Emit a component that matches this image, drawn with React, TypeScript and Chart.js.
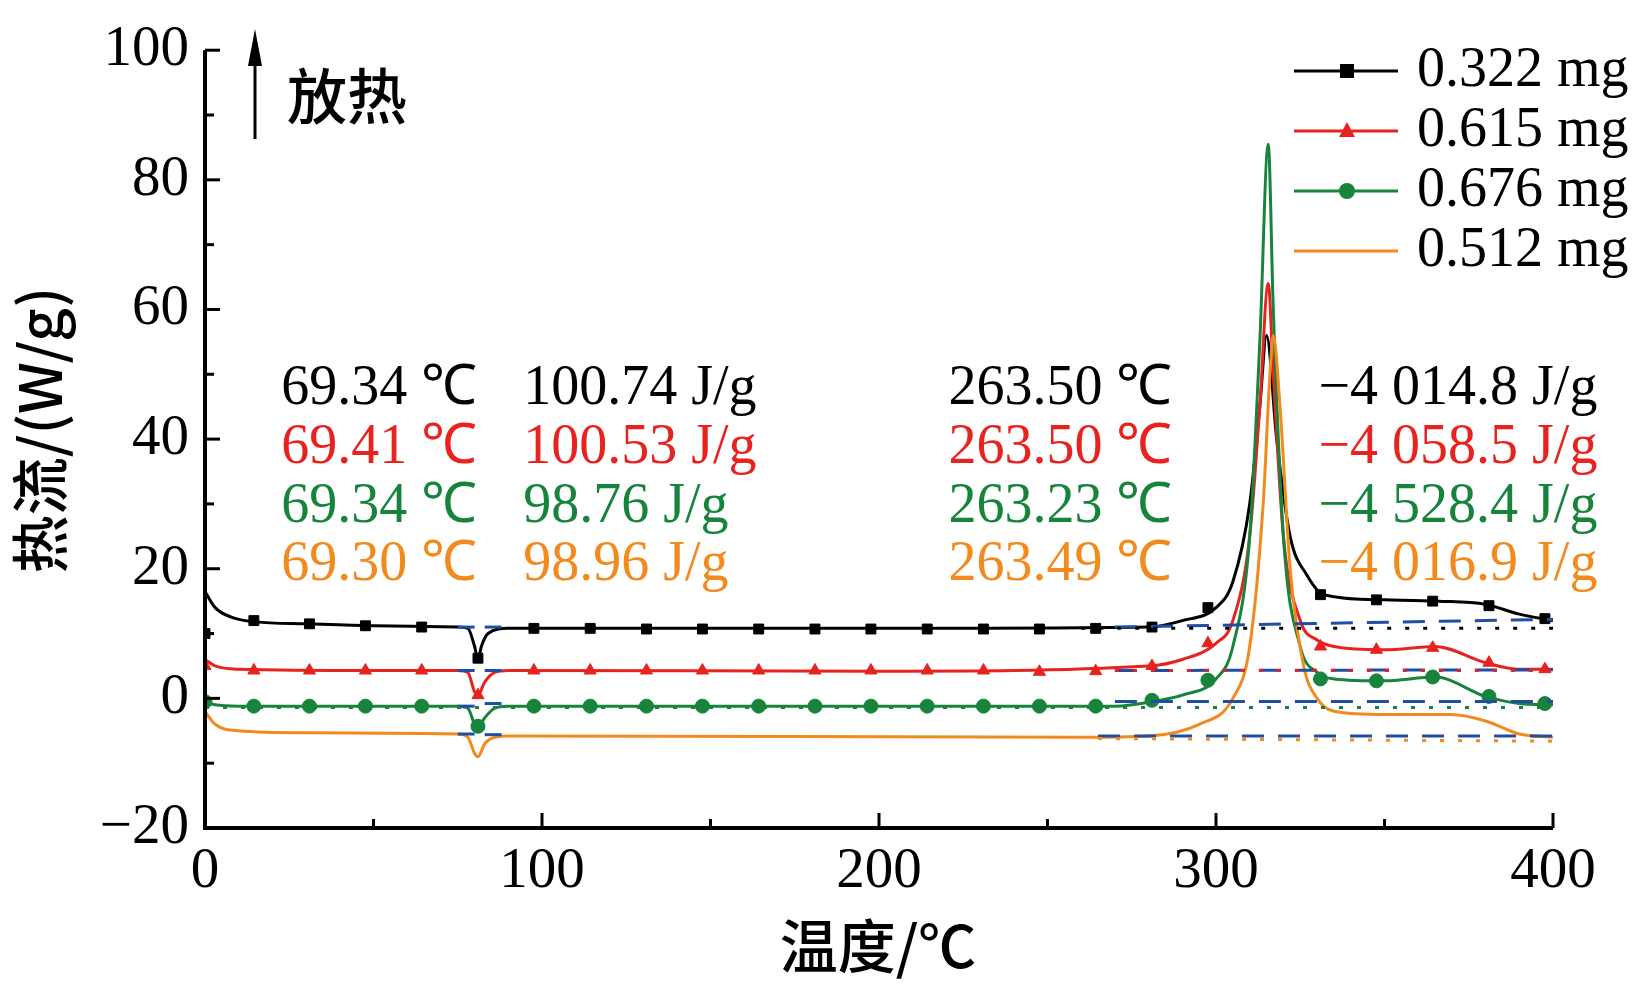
import React, { useEffect, useRef } from "react";
import { Chart, registerables } from "chart.js";
Chart.register(...registerables);

const BLACK = "#000000", RED = "#e8231f", GREEN = "#17843c", ORANGE = "#f28a1e", BLUE = "#1f4ea3";
const seriesNames = ["0.322 mg", "0.615 mg", "0.676 mg", "0.512 mg"];
const colors = [BLACK, RED, GREEN, ORANGE];
const markerStyles = ["rect", "triangle", "circle", false] as const;

const blackX = [0, 3, 8, 15, 30, 50, 75, 78, 80, 81, 82, 84, 90, 100, 200, 280, 290, 300, 305, 310, 313, 315, 318, 322, 327, 332, 350, 366, 380, 390, 400];
const blackY = [16.5, 14, 12.5, 11.8, 11.5, 11.2, 11, 10.8, 8, 6, 8, 10, 10.8, 10.8, 10.8, 11, 12, 14, 18, 30, 45, 56, 40, 25, 19, 16, 15.2, 15, 14.5, 13, 12];
const redX = [0, 3, 10, 50, 75, 78, 80, 81, 83, 86, 90, 200, 280, 290, 300, 305, 310, 313, 315.5, 317, 320, 325, 330, 335, 350, 365, 380, 390, 400];
const redY = [6, 5, 4.5, 4.3, 4.3, 4, 1, 0.5, 2.5, 4, 4.3, 4.2, 5, 6, 8.5, 12, 25, 45, 64, 50, 25, 12, 9, 8, 7.5, 8, 5.5, 4.5, 4.5];
const greenX = [0, 3, 10, 50, 75, 78, 80, 81, 83, 86, 90, 200, 270, 283, 290, 300, 305, 310, 313, 315.5, 317, 320, 325, 330, 335, 350, 365, 380, 390, 400];
const greenY = [-0.5, -1, -1.2, -1.2, -1.2, -1.5, -4, -4.5, -3, -1.5, -1.2, -1.2, -1.2, -0.3, 0.5, 3, 8, 25, 55, 85.5, 60, 25, 8, 4, 3, 2.7, 3.3, 0.3, -0.8, -1];
const orangeX = [0, 3, 10, 30, 75, 78, 80, 81, 83, 86, 90, 260, 280, 295, 305, 310, 314, 316, 317, 319, 322, 326, 330, 335, 350, 370, 380, 390, 400];
const orangeY = [-2, -4, -5, -5.3, -5.5, -6, -8.5, -9, -7, -6, -5.8, -6, -5.8, -4, 0, 8, 30, 50, 56, 45, 20, 5, 0, -2, -2.5, -2.5, -3.5, -5.5, -6];

const markerX = [0, 14.5, 31, 47.6, 64.3, 81, 97.6, 114.3, 131, 147.6, 164.3, 181, 197.6, 214.3, 231, 247.6, 264.3, 281, 297.6, 331, 347.6, 364.3, 381, 397.6];
const blackM = [10, 12, 11.5, 11.2, 11, 6.2, 10.8, 10.8, 10.7, 10.7, 10.7, 10.7, 10.7, 10.7, 10.7, 10.7, 10.8, 11, 14, 16, 15.2, 15, 14.3, 12.3];
const redM = [5, 4.3, 4.3, 4.3, 4.3, 0.5, 4.3, 4.3, 4.3, 4.3, 4.3, 4.3, 4.3, 4.3, 4.3, 4.1, 4.2, 5, 8.5, 8, 7.5, 7.8, 5.5, 4.5];
const greenM = [-0.5, -1.2, -1.2, -1.2, -1.2, -4.3, -1.2, -1.2, -1.2, -1.2, -1.2, -1.2, -1.2, -1.2, -1.2, -1.2, -1.2, -0.3, 2.8, 3, 2.7, 3.3, 0.3, -0.8];

// baselines: [x1, y1, x2, y2]
const blueDash = [[75, 11, 80, 11], [83, 11, 88, 11], [270, 11, 400, 12.2], [75, 4.3, 80, 4.3], [83, 4.3, 88, 4.3], [270, 4.3, 400, 4.4],
  [75, -1.2, 80, -1.2], [83, -0.8, 88, -0.8], [270, -0.5, 400, -0.5], [75, -5.5, 80, -5.5], [83, -5.6, 88, -5.6], [265, -5.8, 400, -5.8]];
const dotLines = [[260, 10.8, 400, 10.8, BLACK], [270, 4.3, 400, 4.3, RED], [0, -1.4, 400, -1.4, GREEN], [265, -6.2, 400, -6.6, ORANGE]];

const annRows = [47.7, 38.6, 29.5, 20.5];
const annTemp1 = ["69.34 ℃", "69.41 ℃", "69.34 ℃", "69.30 ℃"];
const annEnth1 = ["100.74 J/g", "100.53 J/g", "98.76 J/g", "98.96 J/g"];
const annTemp2 = ["263.50 ℃", "263.50 ℃", "263.23 ℃", "263.49 ℃"];
const annEnth2 = ["−4 014.8 J/g", "−4 058.5 J/g", "−4 528.4 J/g", "−4 016.9 J/g"];
const annX = [22.6, 94.4, 220.6, 330.4];

const FONT = "'Liberation Serif', serif";
const CJK = "'Noto Sans CJK SC', sans-serif";

const toPts = (xs: number[], ys: number[]) => xs.map((x, i) => ({ x, y: ys[i] }));

export default function App() {
  const ref = useRef<HTMLCanvasElement>(null);
  useEffect(() => {
    document.body.style.margin = "0";
    const curves = [toPts(blackX, blackY), toPts(redX, redY), toPts(greenX, greenY), toPts(orangeX, orangeY)];
    const marks = [toPts(markerX, blackM), toPts(markerX, redM), toPts(markerX, greenM)];
    const datasets: any[] = [];
    curves.forEach((d, i) => datasets.push({ data: d, showLine: true, borderColor: colors[i], borderWidth: 3, pointRadius: 0, cubicInterpolationMode: "monotone", order: 10 - i }));
    marks.forEach((d, i) => datasets.push({ data: d, showLine: false, pointStyle: markerStyles[i], pointRadius: 7, backgroundColor: colors[i], borderColor: colors[i], order: 10 - i }));

    const overlay = {
      id: "overlay",
      afterDatasetsDraw(chart: any) {
        const { ctx, scales: { x, y }, chartArea: a } = chart;
        ctx.save();
        ctx.lineWidth = 3;
        ctx.strokeStyle = BLUE; ctx.setLineDash([22, 14]);
        blueDash.forEach(([x1, y1, x2, y2]) => { ctx.beginPath(); ctx.moveTo(x.getPixelForValue(x1), y.getPixelForValue(y1)); ctx.lineTo(x.getPixelForValue(x2), y.getPixelForValue(y2)); ctx.stroke(); });
        ctx.setLineDash([4, 14]);
        dotLines.forEach(([x1, y1, x2, y2, c]: any) => { ctx.strokeStyle = c; ctx.beginPath(); ctx.moveTo(x.getPixelForValue(x1), y.getPixelForValue(y1)); ctx.lineTo(x.getPixelForValue(x2), y.getPixelForValue(y2)); ctx.stroke(); });
        ctx.setLineDash([]);
        ctx.strokeStyle = "#000"; ctx.lineWidth = 3;
        for (let v = -20; v <= 100; v += 10) {
          const py = y.getPixelForValue(v); const len = v % 20 === 0 ? 15 : 9;
          ctx.beginPath(); ctx.moveTo(a.left, py); ctx.lineTo(a.left + len, py); ctx.stroke();
        }
        for (let v = 0; v <= 400; v += 50) {
          const px = x.getPixelForValue(v); const len = v % 100 === 0 ? 15 : 9;
          ctx.beginPath(); ctx.moveTo(px, a.bottom); ctx.lineTo(px, a.bottom - len); ctx.stroke();
        }
        ctx.lineWidth = 4;
        ctx.beginPath(); ctx.moveTo(a.left, a.top); ctx.lineTo(a.left, a.bottom); ctx.lineTo(a.right, a.bottom); ctx.stroke();
        ctx.font = `56px ${FONT}`; ctx.textBaseline = "middle"; ctx.textAlign = "left";
        [annTemp1, annEnth1, annTemp2, annEnth2].forEach((col, c) => col.forEach((t, r) => {
          ctx.fillStyle = colors[r]; ctx.fillText(t, x.getPixelForValue(annX[c]), y.getPixelForValue(annRows[r]));
        }));
        seriesNames.forEach((n, i) => {
          const ly = 71 + i * 60;
          ctx.strokeStyle = colors[i]; ctx.lineWidth = 3;
          ctx.beginPath(); ctx.moveTo(1294, ly); ctx.lineTo(1398, ly); ctx.stroke();
          ctx.fillStyle = colors[i];
          const s = markerStyles[i];
          if (s === "rect") ctx.fillRect(1340, ly - 7, 14, 14);
          else if (s === "triangle") { ctx.beginPath(); ctx.moveTo(1347, ly - 9); ctx.lineTo(1355, ly + 6); ctx.lineTo(1339, ly + 6); ctx.fill(); }
          else if (s === "circle") { ctx.beginPath(); ctx.arc(1347, ly, 8, 0, Math.PI * 2); ctx.fill(); }
          ctx.fillStyle = "#000"; ctx.font = `56px ${FONT}`; ctx.fillText(n, 1417, ly);
        });
        ctx.strokeStyle = "#000"; ctx.lineWidth = 3;
        ctx.beginPath(); ctx.moveTo(255, 139); ctx.lineTo(255, 45); ctx.stroke();
        ctx.beginPath(); ctx.moveTo(248, 66); ctx.lineTo(255, 29); ctx.lineTo(262, 66); ctx.closePath(); ctx.fillStyle = "#000"; ctx.fill();
        ctx.font = `500 60px ${CJK}`; ctx.fillText("放热", 287, 96);
        ctx.textAlign = "center";
        ctx.font = `500 58px ${CJK}`;
        ctx.fillText("温度/℃", 878, 946);
        ctx.save(); ctx.translate(40, 430); ctx.rotate(-Math.PI / 2);
        ctx.fillText("热流/(W/g)", 0, 0); ctx.restore();
        ctx.restore();
      },
    };

    const chart = new Chart(ref.current!, {
      type: "scatter",
      data: { datasets },
      options: {
        animation: false, responsive: false, devicePixelRatio: 1,
        layout: { padding: { left: 0, top: 28, right: 81, bottom: 0 } },
        plugins: { legend: { display: false }, tooltip: { enabled: false } },
        scales: {
          x: { type: "linear", min: 0, max: 400, grid: { display: false, drawTicks: false }, border: { display: false },
            ticks: { stepSize: 100, color: "#000", font: { family: FONT, size: 57 }, padding: 10 },
            afterFit: (s: any) => { s.height = 160; } },
          y: { min: -20, max: 100, grid: { display: false, drawTicks: false }, border: { display: false },
            ticks: { stepSize: 20, color: "#000", font: { family: FONT, size: 57 }, padding: 16,
              callback: (v: any) => (v < 0 ? "−" + Math.abs(v) : String(v)) },
            afterFit: (s: any) => { s.width = 205; } },
        },
      },
      plugins: [overlay],
    });
    return () => chart.destroy();
  }, []);
  return <canvas ref={ref} width={1634} height={988} style={{ display: "block" }} />;
}
